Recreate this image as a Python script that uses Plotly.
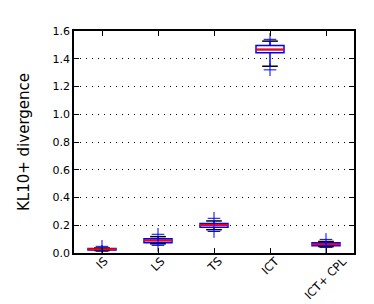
import plotly.graph_objects as go

categories = ["IS", "LS", "TS", "ICT", "ICT+ CPL"]
q1 = [0.022, 0.074, 0.186, 1.444, 0.052]
median = [0.027, 0.090, 0.202, 1.466, 0.063]
q3 = [0.032, 0.102, 0.213, 1.495, 0.073]
lower_whisker = [0.018, 0.066, 0.168, 1.346, 0.046]
upper_whisker = [0.036, 0.118, 0.231, 1.527, 0.083]
outliers = [
    [0.048, 0.012],
    [0.135, 0.055],
    [0.250, 0.155],
    [1.540, 1.320],
    [0.098, 0.040],
]
y_ticks = [0.0, 0.2, 0.4, 0.6, 0.8, 1.0, 1.2, 1.4, 1.6]

pos = list(range(1, len(categories) + 1))
box_half = 0.25
cap_half = 0.14

fig = go.Figure()
fig.add_trace(go.Box(
    x=pos, q1=q1, median=median, q3=q3,
    lowerfence=lower_whisker, upperfence=upper_whisker,
    width=0.5, whiskerwidth=0,
    line=dict(color="#0000ff", width=1.5),
    fillcolor="rgba(0,0,0,0)", boxpoints=False, showlegend=False,
    hoverinfo="skip",
))

# caps
cx, cy = [], []
for p, lo, hi in zip(pos, lower_whisker, upper_whisker):
    cx += [p - cap_half, p + cap_half, None, p - cap_half, p + cap_half, None]
    cy += [lo, lo, None, hi, hi, None]
fig.add_trace(go.Scatter(x=cx, y=cy, mode="lines",
                         line=dict(color="black", width=1.5), showlegend=False))

# medians
mx, my = [], []
for p, m in zip(pos, median):
    mx += [p - box_half, p + box_half, None]
    my += [m, m, None]
fig.add_trace(go.Scatter(x=mx, y=my, mode="lines",
                         line=dict(color="#ff0000", width=2), showlegend=False))

# outliers
ox, oy = [], []
for p, outs in zip(pos, outliers):
    for o in outs:
        ox.append(p)
        oy.append(o)
fig.add_trace(go.Scatter(x=ox, y=oy, mode="markers",
                         marker=dict(symbol="cross-thin", size=9,
                                     line=dict(color="#0000ff", width=1)),
                         showlegend=False))

# rotated category labels centred under their ticks
for p, name in zip(pos, categories):
    fig.add_annotation(x=p, y=0, xref="x", yref="y", text=name, textangle=-45,
                       showarrow=False, xanchor="center", yanchor="top", yshift=0,
                       borderpad=0,
                       font=dict(family="DejaVu Sans", size=11.5, color="black"))

axis_common = dict(showline=True, linecolor="black", linewidth=1.5, mirror="ticks",
                   ticks="inside", ticklen=5, tickcolor="black", tickwidth=1,
                   zeroline=False, automargin=False)

fig.update_xaxes(range=[0.5, 5.5], tickvals=pos, showticklabels=False,
                 showgrid=False, **axis_common)
fig.update_yaxes(range=[0, 1.6], tickvals=y_ticks,
                 ticktext=[f"{v:.1f}" for v in y_ticks],
                 showgrid=True, gridcolor="black", griddash="1px,5px", gridwidth=1,
                 tickfont=dict(family="DejaVu Sans", size=11, color="black"),
                 title=dict(text="KL10+ divergence",
                            font=dict(family="DejaVu Sans", size=15, color="black"),
                            standoff=19),
                 **axis_common)

fig.update_layout(width=366, height=296,
                  margin=dict(l=66, r=20, t=23, b=51),
                  paper_bgcolor="white", plot_bgcolor="white",
                  showlegend=False)

fig.write_html("out.html")
